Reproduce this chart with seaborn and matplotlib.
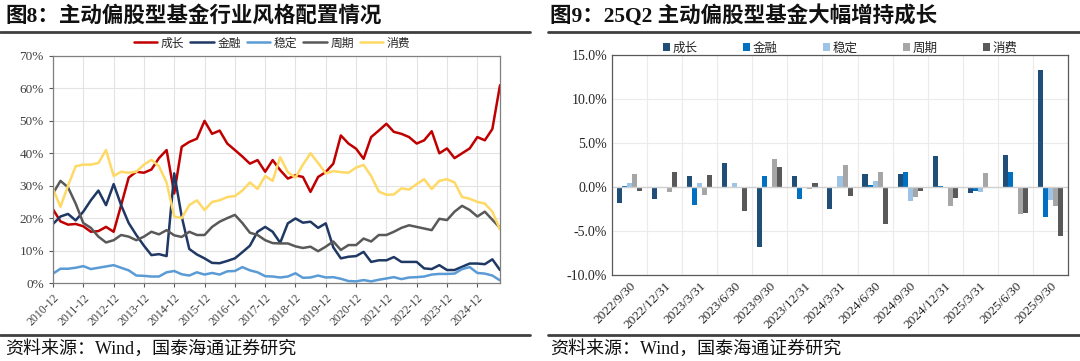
import matplotlib
matplotlib.use('Agg')
import matplotlib.pyplot as plt
from matplotlib.lines import Line2D
from matplotlib.ticker import MultipleLocator, FuncFormatter
import seaborn as sns
import pandas as pd

sns.set_theme(style='white')
plt.rcParams['font.family'] = ['Liberation Serif', 'Noto Sans CJK SC']
plt.rcParams['axes.unicode_minus'] = False

# ---- left chart: industry style allocation (quarterly, %) ----
quarters = pd.date_range('2010-12-31', periods=60, freq='QE')
style_names = ['成长', '金融', '稳定', '周期', '消费']
growth = [22.7, 19.0, 18.0, 18.2, 17.5, 15.8, 16.0, 17.3, 15.8, 24.0,
          32.5, 34.3, 34.0, 35.0, 38.5, 41.0, 27.6, 42.0, 43.5, 44.5,
          50.0, 46.0, 47.0, 43.0, 41.0, 39.0, 36.8, 37.9, 34.3, 37.9,
          34.8, 32.2, 33.2, 32.7, 28.1, 32.7, 34.2, 36.8, 45.5, 43.0,
          41.4, 38.3, 45.0, 47.0, 49.1, 46.6, 46.0, 45.0, 43.0, 44.0,
          46.8, 40.0, 41.5, 38.5, 40.0, 41.5, 45.0, 44.0, 47.5, 61.0]
finance = [18.2, 20.5, 21.3, 19.3, 22.0, 25.5, 28.5, 24.0, 30.5, 24.0,
           18.5, 14.8, 11.5, 8.6, 8.9, 8.3, 33.8, 20.5, 10.5, 8.8,
           7.6, 6.2, 6.1, 6.8, 7.6, 9.5, 11.5, 15.8, 17.3, 15.8,
           12.4, 18.4, 19.9, 18.6, 18.9, 17.0, 18.4, 11.0, 7.6, 8.1,
           8.3, 9.6, 6.5, 7.0, 7.0, 8.0, 6.5, 6.5, 6.5, 4.5,
           4.3, 5.5, 4.0, 4.0, 5.0, 6.0, 6.0, 5.8, 7.3, 4.0]
stable = [2.9, 4.4, 4.4, 4.7, 5.2, 4.3, 4.7, 5.1, 5.5, 4.7,
          3.9, 2.3, 2.2, 2.0, 2.0, 3.3, 3.7, 2.7, 2.3, 3.3,
          2.6, 3.1, 2.6, 3.6, 3.7, 4.9, 3.9, 3.3, 2.1, 2.0,
          1.7, 2.0, 3.0, 1.6, 1.7, 2.3, 1.7, 1.8, 1.3, 0.6,
          0.5, 0.9, 0.5, 1.0, 1.4, 1.8, 1.2, 1.7, 1.8, 2.0,
          2.6, 2.8, 2.8, 2.9, 4.3, 4.9, 3.1, 2.9, 2.3, 0.8]
cyclical = [27.6, 31.5, 29.5, 24.5, 18.5, 17.0, 14.3, 12.5, 13.2, 14.8,
            14.3, 13.2, 14.3, 15.8, 15.0, 16.3, 14.7, 14.2, 15.8, 14.8,
            14.8, 17.3, 18.9, 20.0, 21.0, 18.5, 15.5, 14.8, 13.2, 12.3,
            12.2, 12.2, 11.3, 10.8, 11.2, 9.8, 11.2, 12.8, 10.2, 11.7,
            11.7, 13.7, 12.8, 14.8, 14.8, 15.8, 17.0, 17.8, 17.3, 16.8,
            16.3, 19.8, 19.4, 22.0, 23.8, 22.5, 20.5, 22.0, 19.5, 17.0]
consumer = [29.0, 23.5, 30.0, 36.0, 36.5, 36.5, 37.0, 41.0, 33.0, 34.3,
            34.0, 34.3, 36.5, 38.0, 36.0, 31.0, 20.5, 20.0, 24.0, 25.5,
            22.5, 25.0, 25.5, 26.5, 26.8, 28.5, 31.0, 29.0, 33.0, 31.5,
            38.8, 34.2, 32.5, 36.5, 40.0, 37.0, 33.8, 34.5, 34.2, 34.0,
            35.6, 36.4, 33.0, 28.2, 27.2, 27.3, 29.2, 28.8, 30.5, 32.0,
            29.0, 31.5, 32.0, 31.0, 26.5, 26.0, 25.0, 24.5, 22.0, 16.5]
left_colors = ['#C00000', '#1F3864', '#5B9BD5', '#595959', '#FFD966']

# ---- right chart: quarterly change in allocation (pct points) ----
report_dates = ['2022/9/30', '2022/12/31', '2023/3/31', '2023/6/30', '2023/9/30',
                '2023/12/31', '2024/3/31', '2024/6/30', '2024/9/30', '2024/12/31',
                '2025/3/31', '2025/6/30', '2025/9/30']
chg_growth = [-1.83, -1.37, 1.25, 2.74, -6.8, 1.22, -2.55, 1.48, 1.48, 3.5, -0.65, 3.6, 13.35]
chg_finance = [0.1, 0.0, -2.05, -0.1, 1.25, -1.41, -0.1, 0.27, 1.67, 0.1, -0.42, 1.75, -3.46]
chg_stable = [0.45, 0.05, 0.45, 0.5, 0.05, 0.05, 1.25, 0.68, -1.63, -0.1, -0.6, 0.0, -1.52]
chg_cyclical = [1.45, -0.57, -0.87, 0.0, 3.19, -0.23, 2.5, 1.75, -1.1, -2.13, 1.63, -3.04, -2.17]
chg_consumer = [-0.5, 1.67, 1.4, -2.74, 2.32, 0.42, -1.06, -4.26, -0.5, -1.29, 0.05, -2.93, -5.59]
right_colors = ['#1F4E79', '#0070C0', '#9DC3E6', '#A6A6A6', '#595959']

# long-form tables
left_df = pd.DataFrame({'date': quarters, '成长': growth, '金融': finance,
                        '稳定': stable, '周期': cyclical, '消费': consumer})
left_df = left_df.melt(id_vars='date', var_name='style', value_name='share')
right_df = pd.DataFrame({'date': report_dates, '成长': chg_growth, '金融': chg_finance,
                         '稳定': chg_stable, '周期': chg_cyclical, '消费': chg_consumer})
right_df = right_df.melt(id_vars='date', var_name='style', value_name='chg')

fig = plt.figure(figsize=(10.8, 3.61), dpi=100)
W, H = 1080, 361

def fx(px):
    return px / W

def fy(py):
    return 1 - py / H

# titles, rules and source notes
fig.text(fx(5), fy(16), '图8：主动偏股型基金行业风格配置情况', fontsize=15.5, fontweight='bold',
         va='center', ha='left', color='#111111')
fig.text(fx(550), fy(16), '图9：25Q2 主动偏股型基金大幅增持成长', fontsize=15.5, fontweight='bold',
         va='center', ha='left', color='#111111')
for x0, x1 in [(0, 530), (548, 1080)]:
    fig.add_artist(Line2D([fx(x0), fx(x1)], [fy(32), fy(32)], color='#404040', lw=2))
    fig.add_artist(Line2D([fx(x0), fx(x1)], [fy(335), fy(335)], color='#404040', lw=2))
fig.text(fx(5), fy(349), '资料来源：Wind，国泰海通证券研究', fontsize=13, va='center', ha='left',
         color='#111111')
fig.text(fx(550), fy(349), '资料来源：Wind，国泰海通证券研究', fontsize=13, va='center', ha='left',
         color='#111111')

# ---- left axes ----
ax1 = fig.add_axes([fx(53), fy(283), fx(500 - 53), (283 - 56) / H])
sns.lineplot(data=left_df, x='date', y='share', hue='style', hue_order=style_names,
             palette=left_colors, linewidth=1.8, ax=ax1)
ax1.set_ylim(0, 70)
ax1.yaxis.set_major_locator(MultipleLocator(10))
ax1.yaxis.set_major_formatter(FuncFormatter(lambda v, p: f'{v:.0f}%'))
ax1.set_xlim(quarters[0], quarters[-1])
year_ticks = pd.date_range('2010-12-31', '2024-12-31', freq='YE-DEC')
ax1.set_xticks(year_ticks)
ax1.set_xticklabels([d.strftime('%Y-%m') for d in year_ticks], rotation=45, ha='right',
                    rotation_mode='anchor', fontsize=8.5, color='#404040')
ax1.tick_params(axis='y', labelsize=9.5, colors='#404040')
ax1.tick_params(axis='both', which='major', length=3, width=0.8, color='#595959', direction='out',
                bottom=True, left=True)
ax1.grid(True, color='#E3E3E3', lw=0.8)
ax1.set_xlabel('')
ax1.set_ylabel('')
for side in ['top', 'right', 'left', 'bottom']:
    ax1.spines[side].set_color('#7F7F7F')
    ax1.spines[side].set_linewidth(0.9)
ax1.legend(loc='center', bbox_to_anchor=(0.49, 1.055), ncol=5, frameon=False, fontsize=8.5,
           handlelength=2.0, handletextpad=0.3, columnspacing=0.5, borderaxespad=0)

# ---- right axes ----
ax2 = fig.add_axes([fx(612), fy(275), fx(1068 - 612), (275 - 55) / H])
sns.barplot(data=right_df, x='date', y='chg', hue='style', hue_order=style_names,
            palette=right_colors, width=0.72, gap=0, saturation=1, linewidth=0, ax=ax2)
ax2.set_ylim(-10, 15)
ax2.set_xlim(-0.5, len(report_dates) - 0.5)
ax2.yaxis.set_major_locator(MultipleLocator(5))
ax2.yaxis.set_major_formatter(FuncFormatter(lambda v, p: f'{v:.1f}%'))
ax2.set_xticks(range(len(report_dates)))
ax2.set_xticklabels(report_dates, rotation=45, ha='right', rotation_mode='anchor',
                    fontsize=9.5, color='#262626')
ax2.set_xticks([k + 0.5 for k in range(len(report_dates) - 1)], minor=True)
ax2.tick_params(axis='y', labelsize=10, colors='#262626', length=0)
ax2.tick_params(axis='x', which='both', length=0)
ax2.grid(True, axis='y', color='#EBEBEB', lw=0.8)
ax2.grid(True, axis='x', which='minor', color='#EBEBEB', lw=0.8)
ax2.grid(False, axis='x', which='major')
ax2.set_axisbelow(True)
ax2.axhline(0, color='#D0D0D0', lw=1.0, zorder=1)
ax2.set_xlabel('')
ax2.set_ylabel('')
for side in ['top', 'right', 'left', 'bottom']:
    ax2.spines[side].set_color('#595959')
    ax2.spines[side].set_linewidth(0.9)
ax2.legend(loc='center', bbox_to_anchor=(0.5, 1.03), ncol=5, frameon=False, fontsize=9,
           handlelength=0.6, handleheight=0.6, handletextpad=0.2, columnspacing=3.6,
           borderaxespad=0)

fig.savefig('out.png', dpi=100)
